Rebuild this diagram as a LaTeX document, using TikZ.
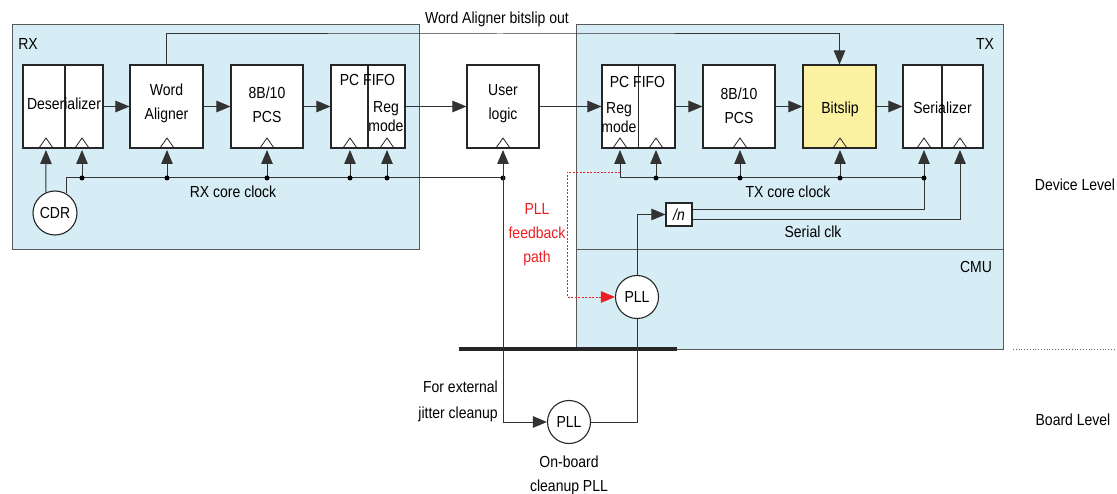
\documentclass[tikz,border=0pt]{standalone}
\usepackage{fontspec}
\setmainfont[FakeStretch=0.875]{Liberation Sans}
\usetikzlibrary{arrows.meta,calc}
\definecolor{panel}{RGB}{214,237,245}
\definecolor{bsfill}{RGB}{250,242,160}
\definecolor{fbred}{RGB}{235,30,35}
\newcommand\clktri[1]{\draw[clk] ($(#1)+(-7,0)$) -- ($(#1)+(0,-10)$) -- ($(#1)+(7,0)$);}
\tikzset{
  txt/.style={font=\fontsize{16}{24}\selectfont, inner sep=0pt},
  blk/.style={draw=black!85, fill=white, line width=1.1pt, minimum height=83pt, inner sep=0pt},
  panelbox/.style={draw=black!65, fill=panel, line width=1.1pt, inner sep=0pt, anchor=north west},
  wire/.style={draw=black!80, line width=1pt},
  arr/.style={wire, -{Triangle[length=14pt,width=11.5pt]}},
  clk/.style={draw=black!85, line width=0.8pt},
  dotc/.style={fill=black, circle, inner sep=0pt, minimum size=5pt},
  ring/.style={circle, draw=black!85, fill=white, line width=1.1pt, inner sep=0pt, minimum size=43pt, font=\fontsize{16}{24}\selectfont},
  fb/.style={draw=fbred, line width=0.9pt, dash pattern=on 2pt off 1.5pt, -{Triangle[length=14pt,width=11.5pt,fill=fbred]}},
}
\begin{document}
\begin{tikzpicture}[x=1pt,y=-1pt]
\useasboundingbox (0,0) rectangle (1117,494);
% panels
\node[panelbox, minimum width=407pt, minimum height=225pt] (rx) at (12,24) {};
\node[panelbox, minimum width=427pt, minimum height=225pt] (tx) at (576,24) {};
\node[panelbox, minimum width=427pt, minimum height=100pt] (cmu) at (576,249) {};
\coordinate (thA) at (459,349);
\coordinate (thB) at (677,349);
\draw[line width=3.5pt, black!85] (thA) -- (thB);
\coordinate (dlA) at (1013,349);
\coordinate (dlB) at (1117,349);
\draw[black!60, line width=0.8pt, dotted] (dlA) -- (dlB);

% panel labels
\node[txt] (rxl) at (28,44) {RX};
\node[txt] (txl) at (985,44) {TX};
\node[txt] (cmul) at (976,267) {CMU};
\node[txt] (dev) at (1075,185) {Device Level};
\node[txt] (brd) at (1073,420) {Board Level};

% blocks
\node[blk, minimum width=80pt] (des) at (63,106.5) {};
\node[blk, minimum width=73pt] (wa) at (166.5,106.5) {};
\node[blk, minimum width=72pt] (pcsr) at (267,106.5) {};
\node[blk, minimum width=74pt] (fifor) at (368,106.5) {};
\node[blk, minimum width=72pt] (user) at (503,106.5) {};
\node[blk, minimum width=73pt] (fifot) at (638.5,106.5) {};
\node[blk, minimum width=72pt] (pcst) at (739,106.5) {};
\node[blk, fill=bsfill, minimum width=73pt] (bits) at (839.5,106.5) {};
\node[blk, minimum width=80pt] (ser) at (943,106.5) {};
% dividers
\draw[draw=black!85, line width=1.1pt] ([xshift=2pt]des.north) -- ([xshift=2pt]des.south);
\draw[draw=black!85, line width=1.1pt] (fifor.north) -- (fifor.south);
\draw[draw=black!85, line width=1.1pt] (fifot.north) -- (fifot.south);
\draw[draw=black!85, line width=1.1pt] ([xshift=-1pt]ser.north) -- ([xshift=-1pt]ser.south);

% block texts
\node[txt] (desT) at (64,104) {Deserializer};
\node[txt, align=center] (waT) at (166.5,103.5) {Word\\Aligner};
\node[txt, align=center] (pcsrT) at (267,105) {8B/10\\PCS};
\node[txt] (frT) at (367.5,80) {PC FIFO};
\node[txt, align=center, font=\fontsize{16}{19}\selectfont] (frR) at (386,116.5) {Reg\\mode};
\node[txt, align=center] (ulT) at (503,103.5) {User\\logic};
\node[txt] (ftT) at (637.5,82) {PC FIFO};
\node[txt, align=center, font=\fontsize{16}{19}\selectfont] (ftR) at (619,117.5) {Reg\\mode};
\node[txt, align=center] (pctT) at (739,106) {8B/10\\PCS};
\node[txt] (bsT) at (840,109.5) {Bitslip};
\node[txt] (serT) at (942.5,108) {Serializer};

% clock triangles
\foreach \x in {46,82,167,267,350,387,503,620,656,740,840,924,960} {
  \coordinate (t\x) at (\x,148);
  \clktri{t\x}
}
% pins (arrow tips)
\coordinate (desL) at (46,150);
\coordinate (desR) at (82,150);
\coordinate (waP) at (167,150);
\coordinate (pcsrP) at (267,150);
\coordinate (frLp) at (350,150);
\coordinate (frRp) at (387,150);
\coordinate (ulP) at (503,150);
\coordinate (ftLp) at (620,150);
\coordinate (ftRp) at (656,150);
\coordinate (ptP) at (740,150);
\coordinate (bsP) at (840,150);
\coordinate (srL) at (924,150);
\coordinate (srR) at (960,150);

% data path
\draw[arr] (des.east) -- (wa.west);
\draw[arr] (wa.east) -- (pcsr.west);
\draw[arr] (pcsr.east) -- (fifor.west);
\draw[arr] (fifor.east) -- (user.west);
\draw[arr] (user.east) -- (fifot.west);
\draw[arr] (fifot.east) -- (pcst.west);
\draw[arr] (pcst.east) -- (bits.west);
\draw[arr] (bits.east) -- (ser.west);

% bitslip out
\coordinate (bso) at (500,34);
\draw[arr] (wa.north) |- (bso) -| (bits.north);
\node[txt] (bsoT) at (497,19) {Word Aligner bitslip out};

% CDR and RX clock
\node[ring, minimum size=44pt] (cdr) at (55,213) {CDR};
\draw[arr] (cdr.114) -- (desL);
\coordinate (rxc) at (503,178);
\draw[wire] (cdr.60) |- (rxc);
\foreach \p in {desR,waP,pcsrP,frLp,frRp} {
  \draw[arr] (\p |- rxc) -- (\p);
  \node[dotc] at (\p |- rxc) {};
}
\node[dotc] (rxd) at (rxc) {};
\node[txt] (rxcl) at (233,192) {RX core clock};

% PLLs
\node[ring] (bpll) at (569,422) {PLL};
\node[ring] (cpll) at (637,297) {PLL};
\draw[arr] (rxc) -- (ulP);
\draw[arr] (rxc) |- (bpll.west);
\draw[wire] (bpll.east) -| (cpll.south);
\node[draw=black!85, fill=white, line width=1.1pt, minimum width=26pt, minimum height=23pt, inner sep=0pt, font=\fontsize{16}{24}\selectfont] (divn) at (679,214.5) {\textit{/n}};
\draw[arr] (cpll.north) |- (divn.west);

% TX clock
\coordinate (txc) at (924,178);
\draw[arr] (txc) -| (ftLp);
\draw[arr] ([yshift=4.5pt]divn.east) -| (srL);
\draw[arr] ([yshift=-5.5pt]divn.east) -| (srR);
\foreach \p in {ftRp,ptP,bsP} {
  \draw[arr] (\p |- txc) -- (\p);
  \node[dotc] at (\p |- txc) {};
}
\node[dotc] (txd) at (txc) {};
\node[txt] (txcl) at (788,192) {TX core clock};
\node[txt] (scl) at (813,232) {Serial clk};

% feedback path
\coordinate (fbs) at (620,172);
\coordinate (fbx) at (567,172);
\draw[fb] (fbs) -- (fbx) |- (cpll.west);
\node[txt, text=fbred, align=center] (fbT) at (537,235) {PLL\\feedback\\path};

% board labels
\node[txt, align=right, anchor=east, font=\fontsize{16}{26}\selectfont] (extT) at (498,401.5) {For external\\jitter cleanup};
\node[txt, align=center] (obT) at (569,475.5) {On-board\\cleanup PLL};
\end{tikzpicture}
\end{document}
